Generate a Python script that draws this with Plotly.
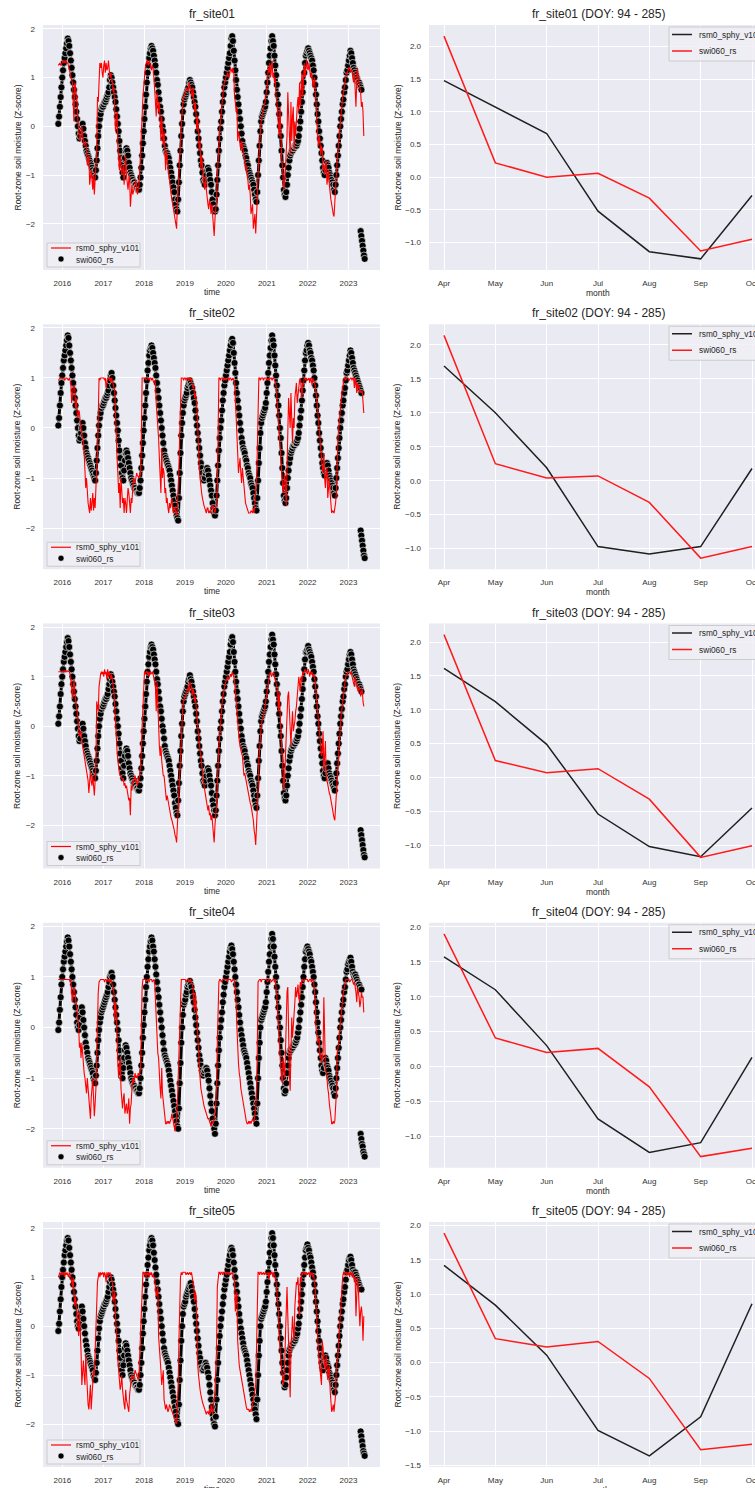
import numpy as np
import pandas as pd
import plotly.graph_objects as go

W, H = 755, 1488
FONT = "Liberation Sans, Arial, sans-serif"
TXT = "#333333"

SITES = ["fr_site01", "fr_site02", "fr_site03", "fr_site04", "fr_site05"]
MONTHS = ["Apr", "May", "Jun", "Jul", "Aug", "Sep", "Oct"]
START = "2015-11-26"       # first weekly sample of the daily series (read weekly)
TAIL_START = "2023-04-20"  # isolated cluster of swi060_rs at the end

# ---------------- swi060_rs (black dots), weekly readings ----------------
swi_s01 = [0.05, 0.2, 0.4, 0.6, 0.8,
    1.0, 1.15, 1.3, 1.4, 1.5, 1.6, 1.7, 1.8, 1.75, 1.65, 1.5, 1.35, 1.2, 1.05, 0.9, 0.75, 0.6, 0.45, 0.3, 0.15, 0.0, -0.15, -0.25, -0.2, -0.1, 0.0, 0.05, -0.05, -0.2, -0.3, -0.4, -0.5, -0.55, -0.6, -0.65, -0.7, -0.75, -0.8, -0.85, -0.9, -0.95, -1.0, -1.05, -0.9, -0.7, -0.45, -0.2, 0.0, 0.15, 0.25, 0.35, 0.4,
    0.4, 0.45, 0.5, 0.5, 0.55, 0.6, 0.65, 0.7, 0.8, 0.95, 1.05, 1.0, 0.9, 0.8, 0.7, 0.6, 0.5, 0.35, 0.2, 0.05, -0.1, -0.3, -0.5, -0.65, -0.8, -0.95, -1.05, -0.85, -0.65, -0.5, -0.45, -0.5, -0.6, -0.75, -0.85, -0.95, -1.0, -1.05, -1.1, -1.15, -1.15, -1.2, -1.2, -1.25, -1.25, -1.3, -1.3, -1.2, -1.05, -0.85, -0.6, -0.35,
    -0.1, 0.15, 0.4, 0.65, 0.9, 1.1, 1.25, 1.4, 1.5, 1.6, 1.65, 1.6, 1.55, 1.45, 1.35, 1.25, 1.1, 0.95, 0.85, 0.7, 0.55, 0.4, 0.3, 0.15, 0.0, -0.1, -0.25, -0.4, -0.5, -0.55, -0.55, -0.6, -0.65, -0.75, -0.85, -0.95, -1.05, -1.15, -1.25, -1.35, -1.5, -1.6, -1.7, -1.75, -1.5, -1.15, -0.8, -0.5, -0.2, 0.05, 0.3, 0.45,
    0.55, 0.6, 0.65, 0.7, 0.75, 0.8, 0.9, 0.95, 0.9, 0.85, 0.8, 0.7, 0.6, 0.5, 0.4, 0.25, 0.1, -0.1, -0.25, -0.4, -0.55, -0.7, -0.8, -0.95, -1.1, -1.15, -1.2, -1.1, -1.0, -0.9, -0.85, -0.9, -1.0, -1.1, -1.2, -1.35, -1.5, -1.6, -1.7, -1.75, -1.7, -1.4, -1.1, -0.8, -0.5, -0.25, -0.05, 0.1, 0.3, 0.5, 0.65, 0.8,
    0.9, 1.0, 1.1, 1.2, 1.3, 1.4, 1.5, 1.65, 1.8, 1.85, 1.75, 1.55, 1.35, 1.15, 0.95, 0.75, 0.6, 0.45, 0.3, 0.15, 0.0, -0.15, -0.3, -0.4, -0.45, -0.5, -0.6, -0.65, -0.75, -0.8, -0.9, -0.95, -1.0, -1.05, -1.1, -1.15, -1.2, -1.3, -1.4, -1.5, -1.55, -1.35, -1.0, -0.7, -0.4, -0.1, 0.1, 0.2, 0.25, 0.3, 0.35, 0.4,
    0.5, 0.7, 0.9, 1.1, 1.3, 1.45, 1.6, 1.75, 1.85, 1.75, 1.65, 1.45, 1.25, 1.05, 0.85, 0.65, 0.45, 0.25, 0.0, -0.2, -0.5, -0.8, -1.05, -1.3, -1.4, -1.45, -1.35, -1.2, -1.0, -0.85, -0.7, -0.6, -0.55, -0.5, -0.5, -0.45, -0.45, -0.4, -0.4, -0.4, -0.35, -0.3, -0.2, -0.05, 0.1, 0.3, 0.5, 0.7, 0.9, 1.1, 1.3, 1.45,
    1.5, 1.55, 1.6, 1.55, 1.5, 1.45, 1.4, 1.35, 1.25, 1.15, 1.0, 0.85, 0.65, 0.45, 0.25, 0.1, -0.1, -0.25, -0.4, -0.55, -0.7, -0.85, -0.95, -1.0, -0.9, -0.8, -0.75, -0.8, -0.85, -0.95, -1.0, -1.05, -1.1, -1.15, -1.2, -1.3, -1.35, -1.2, -1.0, -0.8, -0.6, -0.4, -0.2, 0.0, 0.15, 0.3, 0.45, 0.55, 0.7, 0.8, 0.95, 1.1,
    1.15, 1.25, 1.35, 1.45, 1.55, 1.5, 1.4, 1.3, 1.2, 1.15, 1.1, 1.05, 1.0, 0.95, 0.9, 0.9, 0.85, 0.8, 0.75]

swi_s02 = [0.05, 0.2, 0.45, 0.7, 0.9,
    1.05, 1.2, 1.35, 1.45, 1.55, 1.65, 1.75, 1.85, 1.8, 1.65, 1.5, 1.35, 1.2, 1.05, 0.9, 0.75, 0.6, 0.45, 0.3, 0.15, 0.0, -0.15, -0.25, -0.2, -0.1, 0.0, 0.1, 0.0, -0.15, -0.3, -0.4, -0.5, -0.55, -0.6, -0.65, -0.7, -0.75, -0.8, -0.85, -0.9, -0.95, -1.0, -1.05, -0.9, -0.65, -0.4, -0.15, 0.05, 0.2, 0.3, 0.4, 0.45,
    0.45, 0.5, 0.55, 0.6, 0.6, 0.65, 0.7, 0.75, 0.85, 0.95, 1.05, 1.1, 1.0, 0.85, 0.7, 0.55, 0.4, 0.25, 0.1, -0.05, -0.25, -0.45, -0.6, -0.75, -0.9, -1.0, -1.05, -0.85, -0.65, -0.5, -0.45, -0.5, -0.6, -0.7, -0.8, -0.9, -1.0, -1.05, -1.1, -1.15, -1.2, -1.2, -1.25, -1.25, -1.3, -1.3, -1.3, -1.2, -1.05, -0.8, -0.55, -0.3,
    -0.05, 0.2, 0.45, 0.7, 0.95, 1.15, 1.3, 1.45, 1.55, 1.6, 1.65, 1.6, 1.5, 1.4, 1.3, 1.2, 1.05, 0.9, 0.75, 0.6, 0.45, 0.3, 0.15, 0.0, -0.15, -0.3, -0.45, -0.55, -0.6, -0.65, -0.7, -0.75, -0.8, -0.85, -0.95, -1.05, -1.15, -1.25, -1.35, -1.45, -1.55, -1.65, -1.75, -1.8, -1.85, -1.4, -0.9, -0.5, -0.15, 0.1, 0.3, 0.45,
    0.55, 0.6, 0.65, 0.7, 0.8, 0.85, 0.9, 0.95, 0.9, 0.85, 0.8, 0.7, 0.6, 0.5, 0.35, 0.2, 0.05, -0.1, -0.25, -0.4, -0.55, -0.7, -0.8, -0.9, -1.0, -1.05, -1.0, -0.9, -0.85, -0.8, -0.85, -0.95, -1.05, -1.15, -1.25, -1.35, -1.5, -1.6, -1.7, -1.75, -1.65, -1.35, -1.05, -0.75, -0.45, -0.2, 0.0, 0.15, 0.35, 0.55, 0.7, 0.85,
    0.95, 1.05, 1.15, 1.25, 1.35, 1.45, 1.55, 1.65, 1.75, 1.78, 1.7, 1.5, 1.3, 1.1, 0.9, 0.7, 0.55, 0.4, 0.25, 0.1, -0.05, -0.2, -0.3, -0.4, -0.45, -0.5, -0.6, -0.65, -0.75, -0.8, -0.9, -0.95, -1.0, -1.1, -1.15, -1.2, -1.3, -1.4, -1.5, -1.6, -1.65, -1.4, -1.05, -0.7, -0.4, -0.1, 0.1, 0.2, 0.25, 0.3, 0.35, 0.4,
    0.5, 0.7, 0.9, 1.1, 1.3, 1.45, 1.6, 1.75, 1.85, 1.75, 1.65, 1.45, 1.25, 1.05, 0.85, 0.65, 0.45, 0.25, 0.0, -0.2, -0.5, -0.8, -1.1, -1.35, -1.45, -1.5, -1.4, -1.2, -1.0, -0.85, -0.7, -0.6, -0.5, -0.45, -0.4, -0.35, -0.35, -0.3, -0.3, -0.3, -0.25, -0.2, -0.1, 0.05, 0.2, 0.35, 0.55, 0.75, 0.95, 1.15, 1.35, 1.5,
    1.55, 1.65, 1.7, 1.65, 1.55, 1.5, 1.4, 1.35, 1.25, 1.15, 1.0, 0.85, 0.65, 0.45, 0.25, 0.1, -0.1, -0.25, -0.4, -0.55, -0.7, -0.8, -0.9, -0.95, -0.85, -0.75, -0.7, -0.75, -0.85, -0.95, -1.0, -1.05, -1.1, -1.15, -1.2, -1.3, -1.35, -1.2, -1.0, -0.8, -0.6, -0.4, -0.2, 0.0, 0.15, 0.3, 0.45, 0.55, 0.7, 0.8, 0.95, 1.1,
    1.15, 1.25, 1.35, 1.45, 1.55, 1.5, 1.4, 1.3, 1.2, 1.15, 1.1, 1.05, 1.0, 0.95, 0.9, 0.85, 0.8, 0.75, 0.7]

swi_s03 = [0.05, 0.2, 0.4, 0.65, 0.85,
    1.0, 1.15, 1.3, 1.4, 1.5, 1.6, 1.7, 1.78, 1.72, 1.6, 1.45, 1.3, 1.15, 1.0, 0.85, 0.7, 0.55, 0.4, 0.25, 0.1, -0.05, -0.2, -0.3, -0.25, -0.1, 0.0, 0.05, -0.05, -0.2, -0.3, -0.4, -0.5, -0.55, -0.6, -0.65, -0.7, -0.75, -0.8, -0.85, -0.9, -0.95, -1.0, -1.05, -0.9, -0.7, -0.45, -0.2, 0.0, 0.15, 0.25, 0.35, 0.4,
    0.4, 0.45, 0.5, 0.55, 0.55, 0.6, 0.65, 0.75, 0.85, 0.95, 1.05, 1.0, 0.9, 0.8, 0.7, 0.6, 0.45, 0.3, 0.15, 0.0, -0.15, -0.35, -0.55, -0.7, -0.85, -0.95, -1.05, -0.8, -0.6, -0.5, -0.45, -0.5, -0.6, -0.75, -0.85, -0.95, -1.0, -1.05, -1.1, -1.15, -1.15, -1.2, -1.2, -1.25, -1.25, -1.3, -1.3, -1.2, -1.05, -0.85, -0.6, -0.35,
    -0.1, 0.15, 0.4, 0.65, 0.9, 1.1, 1.25, 1.4, 1.5, 1.6, 1.65, 1.6, 1.55, 1.45, 1.35, 1.25, 1.1, 0.95, 0.85, 0.7, 0.55, 0.4, 0.3, 0.15, 0.0, -0.1, -0.25, -0.4, -0.5, -0.55, -0.6, -0.65, -0.7, -0.8, -0.9, -1.0, -1.1, -1.2, -1.3, -1.4, -1.55, -1.65, -1.75, -1.8, -1.5, -1.15, -0.8, -0.5, -0.2, 0.05, 0.3, 0.5,
    0.6, 0.65, 0.7, 0.75, 0.8, 0.9, 0.95, 1.03, 0.95, 0.9, 0.8, 0.7, 0.6, 0.5, 0.4, 0.25, 0.1, -0.1, -0.25, -0.4, -0.55, -0.7, -0.8, -0.95, -1.1, -1.15, -1.2, -1.1, -1.0, -0.9, -0.85, -0.9, -1.0, -1.1, -1.2, -1.35, -1.5, -1.6, -1.7, -1.8, -1.7, -1.4, -1.1, -0.8, -0.5, -0.25, -0.05, 0.1, 0.3, 0.5, 0.65, 0.8,
    0.9, 1.0, 1.1, 1.2, 1.3, 1.4, 1.5, 1.65, 1.75, 1.8, 1.7, 1.5, 1.3, 1.1, 0.9, 0.7, 0.55, 0.4, 0.25, 0.1, -0.05, -0.2, -0.3, -0.4, -0.45, -0.5, -0.6, -0.65, -0.75, -0.8, -0.9, -0.95, -1.0, -1.1, -1.15, -1.2, -1.3, -1.4, -1.5, -1.6, -1.65, -1.4, -1.05, -0.7, -0.4, -0.1, 0.1, 0.2, 0.25, 0.3, 0.35, 0.4,
    0.5, 0.7, 0.9, 1.1, 1.3, 1.45, 1.6, 1.75, 1.85, 1.75, 1.65, 1.45, 1.25, 1.05, 0.85, 0.65, 0.45, 0.25, 0.0, -0.2, -0.5, -0.8, -1.1, -1.35, -1.45, -1.5, -1.4, -1.2, -1.0, -0.85, -0.7, -0.6, -0.5, -0.45, -0.4, -0.4, -0.35, -0.35, -0.3, -0.3, -0.25, -0.2, -0.1, 0.05, 0.2, 0.35, 0.55, 0.75, 0.95, 1.15, 1.35, 1.5,
    1.5, 1.55, 1.62, 1.55, 1.5, 1.45, 1.4, 1.3, 1.2, 1.1, 0.95, 0.8, 0.6, 0.4, 0.2, 0.05, -0.15, -0.3, -0.45, -0.6, -0.75, -0.9, -1.0, -1.05, -0.95, -0.85, -0.75, -0.75, -0.85, -0.95, -1.0, -1.05, -1.1, -1.15, -1.2, -1.25, -1.3, -1.15, -0.95, -0.75, -0.55, -0.35, -0.15, 0.05, 0.2, 0.35, 0.5, 0.6, 0.75, 0.85, 1.0, 1.1,
    1.15, 1.25, 1.35, 1.45, 1.5, 1.45, 1.35, 1.25, 1.15, 1.1, 1.05, 1.0, 0.95, 0.9, 0.85, 0.85, 0.8, 0.75, 0.7]

swi_s04 = [-0.05, 0.1, 0.35, 0.6, 0.85,
    1.0, 1.15, 1.3, 1.4, 1.5, 1.6, 1.7, 1.78, 1.72, 1.6, 1.45, 1.3, 1.15, 1.0, 0.85, 0.7, 0.55, 0.4, 0.25, 0.1, 0.0, -0.05, 0.05, 0.2, 0.35, 0.4, 0.3, 0.15, 0.0, -0.15, -0.3, -0.4, -0.5, -0.6, -0.65, -0.7, -0.75, -0.8, -0.85, -0.9, -1.0, -1.05, -1.1, -0.95, -0.75, -0.5, -0.25, -0.05, 0.1, 0.2, 0.3, 0.35,
    0.4, 0.45, 0.5, 0.55, 0.6, 0.65, 0.7, 0.8, 0.9, 1.0, 1.05, 1.08, 1.0, 0.85, 0.7, 0.55, 0.4, 0.25, 0.1, -0.05, -0.25, -0.45, -0.6, -0.75, -0.9, -1.0, -0.8, -0.6, -0.45, -0.35, -0.4, -0.5, -0.6, -0.7, -0.8, -0.9, -1.0, -1.05, -1.1, -1.15, -1.15, -1.2, -1.2, -1.25, -1.25, -1.3, -1.3, -1.2, -1.0, -0.75, -0.5, -0.2,
    0.05, 0.3, 0.55, 0.8, 1.0, 1.2, 1.35, 1.5, 1.6, 1.7, 1.78, 1.72, 1.6, 1.5, 1.35, 1.2, 1.05, 0.9, 0.75, 0.6, 0.45, 0.3, 0.15, 0.0, -0.15, -0.3, -0.45, -0.55, -0.6, -0.65, -0.7, -0.75, -0.85, -0.95, -1.05, -1.15, -1.25, -1.35, -1.45, -1.55, -1.65, -1.75, -1.85, -1.95, -2.0, -1.6, -1.1, -0.7, -0.3, 0.0, 0.25, 0.45,
    0.5, 0.55, 0.65, 0.7, 0.8, 0.85, 0.9, 0.92, 0.85, 0.8, 0.7, 0.6, 0.5, 0.35, 0.2, 0.05, -0.1, -0.25, -0.4, -0.55, -0.65, -0.75, -0.85, -0.9, -0.95, -0.9, -0.85, -0.8, -0.8, -0.85, -0.95, -1.05, -1.2, -1.35, -1.5, -1.65, -1.8, -1.9, -2.0, -2.1, -1.9, -1.5, -1.1, -0.75, -0.45, -0.2, 0.0, 0.15, 0.3, 0.5, 0.65, 0.8,
    0.9, 1.0, 1.1, 1.2, 1.3, 1.4, 1.5, 1.58, 1.62, 1.55, 1.45, 1.3, 1.15, 1.0, 0.85, 0.7, 0.55, 0.4, 0.25, 0.1, -0.05, -0.15, -0.25, -0.35, -0.45, -0.5, -0.55, -0.6, -0.7, -0.8, -0.9, -1.0, -1.1, -1.2, -1.3, -1.4, -1.5, -1.6, -1.7, -1.8, -1.9, -1.5, -1.0, -0.6, -0.3, 0.0, 0.15, 0.2, 0.25, 0.3, 0.35, 0.4,
    0.5, 0.7, 0.9, 1.1, 1.3, 1.45, 1.6, 1.75, 1.85, 1.75, 1.6, 1.4, 1.2, 1.0, 0.8, 0.6, 0.4, 0.2, 0.0, -0.25, -0.5, -0.75, -1.0, -1.2, -1.3, -1.25, -1.1, -0.9, -0.75, -0.6, -0.5, -0.45, -0.45, -0.4, -0.4, -0.35, -0.35, -0.3, -0.3, -0.25, -0.2, -0.1, 0.0, 0.15, 0.3, 0.45, 0.6, 0.8, 1.0, 1.2, 1.35, 1.5,
    1.55, 1.6, 1.55, 1.5, 1.45, 1.35, 1.3, 1.2, 1.1, 1.0, 0.85, 0.7, 0.5, 0.3, 0.1, -0.1, -0.3, -0.45, -0.6, -0.75, -0.85, -0.9, -0.8, -0.65, -0.6, -0.65, -0.75, -0.8, -0.85, -0.95, -1.0, -1.05, -1.1, -1.15, -1.2, -1.3, -1.35, -1.2, -1.0, -0.8, -0.6, -0.4, -0.2, 0.0, 0.15, 0.3, 0.45, 0.55, 0.7, 0.8, 0.95, 1.1,
    1.15, 1.25, 1.3, 1.35, 1.38, 1.3, 1.2, 1.1, 1.05, 1.0, 1.05, 1.0, 0.95, 0.9, 0.85, 0.85, 0.8, 0.75, 0.75]

swi_s05 = [-0.1, 0.05, 0.3, 0.55, 0.8,
    1.0, 1.15, 1.3, 1.45, 1.55, 1.65, 1.75, 1.8, 1.75, 1.6, 1.45, 1.3, 1.15, 1.0, 0.85, 0.7, 0.55, 0.4, 0.25, 0.1, 0.0, -0.05, 0.05, 0.2, 0.3, 0.4, 0.3, 0.15, 0.0, -0.15, -0.3, -0.4, -0.5, -0.6, -0.65, -0.7, -0.75, -0.8, -0.85, -0.9, -1.0, -1.05, -1.1, -0.95, -0.75, -0.5, -0.25, -0.05, 0.1, 0.2, 0.25, 0.3,
    0.35, 0.4, 0.45, 0.45, 0.5, 0.55, 0.6, 0.7, 0.8, 0.9, 1.0, 0.95, 0.85, 0.75, 0.65, 0.5, 0.35, 0.2, 0.05, -0.1, -0.3, -0.5, -0.65, -0.8, -0.9, -1.0, -0.8, -0.6, -0.45, -0.35, -0.4, -0.5, -0.6, -0.7, -0.8, -0.9, -1.0, -1.05, -1.1, -1.15, -1.15, -1.2, -1.2, -1.25, -1.25, -1.3, -1.3, -1.2, -1.0, -0.75, -0.45, -0.15,
    0.1, 0.35, 0.6, 0.85, 1.05, 1.25, 1.4, 1.55, 1.65, 1.75, 1.8, 1.75, 1.65, 1.5, 1.35, 1.2, 1.05, 0.9, 0.75, 0.6, 0.45, 0.3, 0.15, 0.0, -0.15, -0.3, -0.45, -0.55, -0.6, -0.65, -0.7, -0.75, -0.85, -0.95, -1.05, -1.15, -1.25, -1.35, -1.45, -1.55, -1.65, -1.75, -1.85, -1.95, -2.0, -1.6, -1.1, -0.7, -0.3, 0.0, 0.25, 0.4,
    0.45, 0.5, 0.6, 0.65, 0.7, 0.75, 0.8, 0.85, 0.88, 0.8, 0.7, 0.6, 0.5, 0.35, 0.2, 0.05, -0.1, -0.25, -0.4, -0.55, -0.65, -0.75, -0.85, -0.9, -0.9, -0.85, -0.8, -0.75, -0.8, -0.85, -0.95, -1.05, -1.2, -1.35, -1.5, -1.65, -1.8, -1.9, -2.0, -2.05, -1.85, -1.5, -1.1, -0.75, -0.45, -0.2, 0.0, 0.15, 0.3, 0.45, 0.6, 0.75,
    0.85, 0.95, 1.05, 1.15, 1.25, 1.35, 1.45, 1.55, 1.6, 1.55, 1.45, 1.3, 1.15, 1.0, 0.85, 0.7, 0.55, 0.4, 0.25, 0.1, -0.05, -0.15, -0.25, -0.35, -0.45, -0.5, -0.55, -0.6, -0.7, -0.8, -0.9, -1.0, -1.1, -1.2, -1.3, -1.4, -1.5, -1.6, -1.7, -1.8, -1.9, -1.5, -1.0, -0.6, -0.3, 0.0, 0.15, 0.2, 0.25, 0.3, 0.35, 0.4,
    0.5, 0.7, 0.9, 1.1, 1.3, 1.5, 1.65, 1.8, 1.9, 1.8, 1.65, 1.45, 1.25, 1.05, 0.85, 0.65, 0.45, 0.25, 0.0, -0.25, -0.5, -0.75, -0.95, -1.15, -1.25, -1.2, -1.05, -0.9, -0.75, -0.6, -0.5, -0.45, -0.4, -0.4, -0.35, -0.35, -0.3, -0.3, -0.25, -0.2, -0.15, -0.05, 0.05, 0.2, 0.35, 0.5, 0.65, 0.85, 1.05, 1.25, 1.4, 1.55,
    1.6, 1.67, 1.6, 1.55, 1.45, 1.4, 1.3, 1.2, 1.1, 1.0, 0.85, 0.7, 0.5, 0.3, 0.1, -0.1, -0.3, -0.45, -0.6, -0.75, -0.85, -0.9, -0.8, -0.65, -0.6, -0.65, -0.75, -0.8, -0.85, -0.95, -1.0, -1.05, -1.1, -1.15, -1.2, -1.3, -1.35, -1.2, -1.0, -0.8, -0.6, -0.4, -0.2, 0.0, 0.15, 0.3, 0.45, 0.55, 0.7, 0.8, 0.95, 1.1,
    1.15, 1.25, 1.35, 1.4, 1.42, 1.35, 1.25, 1.15, 1.1, 1.05, 1.1, 1.05, 1.0, 0.95, 0.9, 0.85, 0.8, 0.75, 0.75]

# isolated end-of-record cluster of swi060_rs
tail_s01 = [-2.15, -2.25, -2.35, -2.45, -2.55, -2.65, -2.72]
tail_s02 = [-2.05, -2.15, -2.25, -2.35, -2.45, -2.55, -2.6]
tail_s03 = [-2.1, -2.2, -2.3, -2.4, -2.5, -2.6, -2.65]
tail_s04 = [-2.1, -2.2, -2.3, -2.35, -2.45, -2.5, -2.55]
tail_s05 = [-2.15, -2.25, -2.35, -2.45, -2.55, -2.6, -2.65]

# ---------------- rsm0_sphy_v101 (red line), weekly readings ----------------
rsm_s01 = [1.25, 1.3, 1.3, 1.25, 1.3,
    1.3, 1.35, 1.3, 1.35, 1.3, 1.35, 1.3, 1.3, 1.25, 1.2, 1.1, 1.0, 0.95, 0.9, 0.5, 0.1, 0.9, 0.8, 0.6, 0.5, 0.1, -0.2, -0.25, -0.3, -0.1, 0.0, -0.2, -0.3, -0.4, -0.35, -0.3, -0.5, -0.8, -0.7, -0.6, -1.2, -1.0, -0.9, -1.1, -1.3, -1.0, -1.4, -1.1, -0.8, -0.5, 0.6, 0.5, 0.9, 1.3, 1.2, 1.3, 1.1,
    1.0, 1.25, 1.35, 1.1, 1.3, 1.15, 1.2, 1.35, 1.2, 1.0, 1.1, 0.9, 0.95, 0.7, 0.8, 0.3, -0.1, 0.1, 0.3, -0.4, -0.7, -0.9, -0.6, -0.8, -1.0, -0.9, -0.8, -1.2, -0.9, -0.6, -1.0, -1.2, -1.3, -1.1, -1.0, -1.65, -1.3, -1.2, -1.4, -1.35, -1.3, -1.2, -1.1, -1.25, -1.4, -1.3, -1.2, -0.9, -0.6, -0.3, 0.2, 0.6,
    0.9, 1.0, 1.2, 1.3, 1.35, 1.3, 1.25, 1.35, 1.3, 1.2, 1.15, 1.25, 1.2, 1.0, 0.8, 0.5, 0.2, 0.7, 0.5, 0.3, 0.5, 0.1, -0.3, 0.2, -0.1, -0.4, -0.1, -0.5, -0.9, -0.5, -0.7, -0.9, -1.0, -1.1, -1.3, -1.4, -1.5, -1.6, -1.7, -1.8, -1.9, -2.0, -2.1, -1.6, -1.2, -0.8, -0.5, -0.3, 0.0, 0.3, 0.5, 0.6,
    0.6, 0.7, 0.75, 0.8, 0.75, 0.7, 0.9, 0.85, 0.8, 0.7, 0.6, 0.8, 0.5, 0.3, 0.5, 0.2, -0.1, 0.2, -0.2, -0.5, -0.3, -0.9, -0.6, -0.8, -1.1, -1.2, -1.3, -1.0, -1.3, -1.5, -1.6, -1.7, -1.5, -1.6, -1.8, -1.6, -1.8, -2.0, -2.25, -1.9, -1.7, -1.5, -1.0, -0.6, -0.3, -0.1, 0.1, 0.3, 0.5, 0.7, 0.8, 0.9,
    0.95, 1.0, 1.05, 1.1, 1.05, 1.0, 1.1, 1.2, 1.15, 1.1, 1.2, 1.1, 0.6, 0.5, 0.3, 0.4, -0.3, -0.1, -0.2, -0.4, -0.5, -0.3, -0.4, -0.5, -0.6, -0.7, -0.9, -0.8, -1.0, -1.1, -1.3, -1.2, -1.4, -1.8, -1.7, -1.6, -2.1, -1.9, -1.8, -2.2, -1.9, -1.5, -1.0, -0.6, -0.2, -0.1, 0.1, 0.2, 0.25, 0.4, 0.45, 0.5,
    0.6, 0.75, 0.9, 1.2, 1.1, 1.3, 1.0, 1.2, 1.35, 1.0, 1.1, 0.9, 1.0, 0.6, 0.5, 0.3, 0.1, -0.2, 0.4, -0.5, -0.6, -0.8, -1.0, -1.3, -1.1, -0.9, -0.5, -0.2, 0.7, 0.1, -0.3, -0.6, 0.5, -0.3, 0.2, 0.4, -0.5, 0.1, -0.2, 0.2, 0.4, 0.6, 0.3, 0.9, 0.4, 0.7, 1.1, 0.6, 0.9, 1.3, 1.0, 1.2,
    1.35, 1.2, 1.15, 1.3, 1.1, 1.0, 1.1, 1.05, 0.8, 0.9, 1.0, 0.7, 0.5, 0.1, -0.1, -0.4, -0.2, -0.3, -0.6, -0.4, -0.5, -0.9, -0.8, -1.0, -0.8, -0.7, -1.2, -1.0, -0.9, -1.2, -1.4, -1.5, -1.6, -1.75, -1.8, -1.85, -1.5, -1.2, -1.0, -0.7, -0.5, -0.3, -0.1, 0.1, 0.3, 0.45, 0.6, 0.7, 0.8, 0.9, 1.0, 1.1,
    1.1, 1.15, 1.2, 1.2, 1.1, 1.15, 1.15, 1.0, 0.9, 1.1, 0.6, 0.4, 0.9, 1.2, 1.0, 0.9, 0.8, 0.7, 0.4, 0.5, 0.3, -0.2]

rsm_s02 = [0.95, 1.0, 1.0, 1.0, 1.0,
    1.0, 1.0, 1.0, 0.95, 1.0, 1.0, 1.0, 0.95, 0.95, 1.0, 0.95, 0.9, 0.5, 0.75, 0.8, 0.85, 0.8, 0.4, 0.6, 0.3, 0.2, 0.35, 0.3, 0.1, 0.0, -0.1, -0.2, -0.3, -0.5, -0.9, -1.2, -1.0, -1.3, -1.5, -1.6, -1.7, -1.4, -1.65, -1.5, -1.3, -1.65, -1.4, -1.6, -1.0, -0.8, -0.5, 0.5, 1.0, 0.95, 1.0, 1.0, 1.0,
    1.0, 1.0, 0.95, 1.0, 0.8, 0.95, 1.0, 1.0, 0.95, 1.0, 0.9, 1.0, 0.95, 0.85, 0.8, 0.75, 0.3, -0.4, -0.6, -0.9, -1.3, -1.1, -1.6, -1.0, -1.2, -1.5, -1.4, -1.7, -1.4, -1.5, -1.7, -1.4, -1.2, -1.3, -1.5, -1.7, -1.4, -1.5, -1.2, -1.0, -1.05, -1.1, -1.0, -0.9, -0.95, -1.0, -1.0, -0.9, -0.95, -0.2, 1.0, 1.0,
    1.0, 1.0, 1.0, 0.95, 1.0, 1.0, 1.0, 0.95, 1.0, 1.0, 0.95, 1.0, 0.95, 0.9, 0.95, 0.9, 0.5, 0.3, 0.1, -0.2, -0.6, -0.9, -1.3, -0.4, -1.0, -0.8, -0.9, -1.3, -1.2, -1.5, -1.4, -1.6, -1.7, -1.5, -1.6, -1.5, -1.4, -1.6, -1.7, -1.6, -1.6, -1.7, -1.75, -1.6, -1.3, -0.8, -0.1, 0.5, 1.0, 1.0, 1.0, 0.95,
    1.0, 1.0, 0.95, 1.0, 1.0, 0.95, 1.0, 0.95, 1.0, 0.95, 0.9, 0.8, 0.85, 0.6, 0.7, 0.5, 0.4, 0.0, -0.5, -0.8, -1.0, -1.2, -1.3, -1.4, -1.5, -1.55, -1.6, -1.65, -1.7, -1.6, -1.6, -1.7, -1.65, -1.7, -1.6, -1.55, -1.6, -1.55, -1.65, -1.7, -1.6, -1.5, -1.2, 0.0, 1.0, 1.0, 0.95, 1.0, 1.0, 1.0, 0.95, 1.0,
    1.0, 0.95, 1.0, 1.0, 1.0, 0.95, 1.0, 1.0, 0.95, 1.0, 1.0, 0.95, 0.9, 0.6, 0.3, 0.0, -0.5, -0.9, -0.7, -0.6, -0.9, -1.1, -0.8, -1.0, -1.2, -1.4, -1.5, -1.55, -1.6, -1.65, -1.7, -1.7, -1.7, -1.65, -1.7, -1.7, -1.6, -1.7, -1.5, -1.3, -1.0, -0.5, 0.2, 1.0, 1.0, 0.95, 1.0, 1.0, 1.0, 0.95, 1.0, 1.0,
    1.0, 0.95, 1.0, 1.0, 0.95, 1.0, 1.0, 1.0, 0.95, 1.0, 1.0, 0.95, 0.9, 0.85, 0.6, 0.4, 0.2, 0.0, -0.3, -0.6, -0.8, -1.0, -1.3, -1.1, -0.9, -1.2, -1.55, -0.8, -0.2, 0.6, 0.3, 0.0, 0.7, 0.2, -0.3, 0.2, 0.0, 0.6, 0.75, 0.9, 0.5, 0.7, 0.9, 0.95, 1.0, 0.8, 0.6, 0.9, 0.85, 1.0, 1.0, 0.95,
    1.0, 0.95, 1.0, 1.0, 0.9, 1.0, 0.95, 0.85, 1.0, 0.95, 0.9, 0.85, 0.7, 0.6, 0.4, 0.2, 0.0, -0.3, -0.5, -0.6, -0.8, -0.9, -0.5, -1.0, -1.2, -0.9, -0.8, -1.4, -1.2, -1.0, -1.3, -1.5, -1.7, -1.65, -1.7, -1.7, -1.6, -1.5, -1.3, -0.6, -0.2, 0.0, 0.2, 0.4, 0.6, 0.7, 0.8, 0.9, 1.0, 1.0, 0.95, 1.0,
    1.0, 1.0, 0.95, 1.0, 1.0, 1.0, 0.95, 1.0, 1.0, 0.8, 1.0, 0.9, 0.7, 0.9, 0.8, 0.85, 0.7, 0.75, 0.7, 0.75, 0.5, 0.3]

rsm_s03 = [1.1, 1.1, 1.1, 1.1, 1.1,
    1.1, 1.12, 1.1, 1.12, 1.1, 1.12, 1.1, 1.12, 1.1, 1.1, 1.05, 0.95, 0.8, 0.55, 0.9, 0.95, 0.7, 0.5, 0.4, 0.3, 0.1, 0.0, -0.2, -0.15, -0.1, -0.3, -0.4, -0.5, -0.6, -0.7, -0.8, -0.9, -1.0, -1.1, -1.35, -1.1, -0.9, -1.1, -1.2, -1.0, -1.3, -1.4, -1.1, -0.8, 0.5, 0.4, 0.3, 0.8, 1.0, 1.05, 1.1, 1.05,
    1.1, 1.0, 1.15, 1.05, 1.1, 0.95, 1.15, 1.0, 1.1, 1.05, 0.95, 1.05, 0.9, 0.8, 0.7, 0.4, 0.0, -0.2, -0.5, -0.7, -0.9, -0.95, -1.0, -1.0, -1.05, -1.1, -1.05, -1.2, -1.15, -1.25, -1.2, -1.3, -1.4, -1.5, -1.45, -1.8, -1.2, -1.3, -1.1, -1.15, -1.05, -1.0, -1.1, -1.05, -1.2, -1.1, -1.05, -1.0, -0.8, -0.5, 0.0, 0.3,
    0.8, 1.1, 1.05, 1.1, 1.12, 1.05, 1.1, 1.0, 1.1, 1.05, 1.1, 1.1, 1.05, 1.0, 0.9, 0.8, 0.3, 0.9, 0.5, -0.2, -0.4, -0.6, -0.4, -0.7, -0.9, -1.0, -1.0, -1.2, -1.3, -1.5, -1.4, -1.5, -1.6, -1.7, -1.8, -1.85, -1.9, -1.95, -2.0, -2.1, -2.2, -2.25, -2.35, -2.0, -1.6, -1.1, -0.7, -0.4, -0.1, 0.2, 0.4, 0.55,
    0.55, 0.6, 0.65, 0.7, 0.75, 0.8, 0.7, 0.9, 0.85, 0.8, 0.6, 0.75, 0.7, 0.5, 0.6, 0.3, 0.2, 0.0, -0.2, -0.3, -0.5, -0.6, -0.8, -0.9, -1.1, -1.2, -1.3, -1.4, -1.5, -1.6, -1.7, -1.6, -1.8, -1.75, -1.9, -1.8, -2.0, -2.2, -2.35, -2.0, -1.8, -1.6, -1.2, -0.7, -0.4, -0.2, 0.1, 0.3, 0.45, 0.6, 0.7, 0.8,
    0.85, 0.9, 0.95, 1.0, 0.95, 0.95, 1.0, 1.05, 1.0, 1.1, 1.05, 1.0, 0.9, 0.7, 0.5, 0.3, 0.0, -0.1, -0.3, -0.4, -0.5, -0.55, -0.6, -0.8, -1.0, -0.95, -1.05, -1.1, -1.2, -1.3, -1.4, -1.5, -1.55, -1.6, -1.7, -1.8, -1.9, -2.1, -2.2, -2.4, -2.1, -1.8, -1.3, -0.7, -0.4, -0.2, 0.0, 0.1, 0.15, 0.2, 0.3, 0.4,
    0.5, 0.6, 0.7, 0.85, 1.0, 1.05, 1.1, 1.0, 1.05, 1.1, 1.1, 1.0, 0.95, 0.9, 0.8, 0.7, 0.3, 0.7, 0.2, -0.2, -0.4, -0.6, -1.0, -1.3, -1.0, -0.6, 0.0, 0.5, 0.6, 0.7, 0.3, 0.0, -0.4, 0.0, 0.3, -0.1, 0.0, 0.1, 0.3, 0.4, 0.6, 0.8, 1.0, 0.85, 0.7, 1.0, 0.9, 1.1, 1.05, 1.1, 1.15, 1.1,
    1.1, 1.05, 1.15, 1.1, 1.0, 1.1, 1.05, 1.1, 1.0, 1.05, 0.95, 0.9, 0.7, 0.5, 0.3, 0.1, -0.1, -0.3, -0.4, -0.6, -0.5, -0.1, -0.9, -0.6, -0.3, -1.0, -1.1, -1.2, -1.3, -1.35, -1.4, -1.5, -1.6, -1.7, -1.8, -1.85, -1.9, -1.6, -1.4, -1.2, -0.8, -0.5, -0.3, -0.05, 0.2, 0.35, 0.5, 0.65, 0.8, 0.9, 1.0, 1.05,
    1.05, 1.1, 1.1, 1.1, 1.05, 1.1, 1.0, 0.95, 0.9, 0.8, 1.0, 0.9, 0.8, 0.75, 0.7, 0.8, 0.75, 0.6, 0.7, 0.75, 0.5, 0.4]

rsm_s04 = [0.95, 0.95, 0.95, 0.95, 0.95,
    0.95, 0.95, 0.95, 0.95, 0.95, 0.95, 0.95, 0.95, 0.95, 0.95, 0.9, 0.95, 0.7, 0.5, 0.7, 0.8, 0.7, 0.6, 0.45, 0.3, 0.1, 0.0, -0.4, -0.3, -0.6, -0.3, -0.5, -0.8, -0.9, -1.0, -1.2, -1.3, -1.0, -1.2, -1.5, -1.6, -1.8, -1.4, -1.2, -1.0, -1.4, -1.75, -1.5, -1.2, -0.5, 0.3, 0.7, 0.9, 0.95, 0.95, 0.95, 0.95,
    0.95, 0.95, 0.9, 0.95, 0.95, 0.9, 0.95, 0.95, 0.9, 0.95, 0.95, 0.9, 0.85, 0.8, 0.7, 0.1, 0.5, 0.3, -0.4, -0.7, -1.0, -0.8, -0.6, -1.2, -1.4, -1.6, -1.4, -1.3, -1.7, -1.6, -1.5, -1.7, -1.6, -1.4, -1.9, -1.6, -1.5, -1.2, -1.0, -1.1, -1.0, -0.9, -1.0, -0.95, -1.0, -0.9, -0.95, -0.9, -0.8, 0.3, 0.8, 0.95,
    0.95, 0.95, 0.95, 0.9, 0.95, 0.95, 0.95, 0.9, 0.95, 0.95, 0.95, 0.9, 0.95, 0.95, 0.9, 0.5, 0.2, -0.2, -0.5, -0.6, -1.0, -1.2, -1.4, -0.8, -1.3, -1.5, -1.6, -1.75, -1.9, -1.9, -1.85, -1.9, -1.85, -1.9, -1.85, -1.8, -1.7, -1.8, -1.9, -1.95, -2.05, -1.9, -1.8, -1.5, -1.0, -0.5, 0.0, 0.5, 0.95, 0.95, 0.95, 0.95,
    0.95, 0.95, 0.9, 0.95, 0.95, 0.95, 0.9, 0.95, 0.95, 0.9, 0.85, 0.8, 0.5, 0.3, 0.7, 0.4, 0.0, -0.2, -0.5, -0.8, -1.0, -1.2, -1.3, -1.4, -1.5, -1.55, -1.6, -1.65, -1.7, -1.75, -1.8, -1.8, -1.85, -1.9, -1.95, -1.9, -1.85, -1.9, -1.8, -1.7, -1.5, -1.2, -0.3, 0.5, 0.9, 0.95, 0.95, 0.9, 0.95, 0.95, 0.95, 0.95,
    0.95, 0.95, 0.95, 0.9, 0.95, 0.95, 0.95, 0.95, 0.9, 0.95, 0.95, 0.95, 0.9, 0.7, 0.5, 0.0, -0.5, -0.7, -0.9, -1.0, -1.2, -1.3, -1.4, -1.5, -1.6, -1.7, -1.8, -1.85, -1.9, -1.9, -1.85, -1.9, -1.85, -1.9, -1.85, -1.8, -1.85, -1.85, -1.7, -1.6, -1.2, -0.5, 0.9, 0.95, 0.95, 0.95, 0.9, 0.95, 0.95, 0.95, 0.95, 0.95,
    0.95, 0.95, 0.9, 0.95, 0.95, 0.95, 0.95, 0.9, 0.95, 0.95, 0.95, 0.9, 0.95, 0.8, 0.6, 0.3, 0.0, -0.4, -0.6, -0.8, -1.0, -1.1, -0.6, -0.8, -1.0, -0.5, 0.6, 0.7, 0.8, -0.7, -0.9, -1.25, 0.0, 0.2, -0.2, 0.0, 0.3, 0.5, 0.8, 0.6, 0.7, 0.85, 0.6, 0.5, 0.9, 0.8, 0.95, 0.95, 0.9, 0.95, 0.95, 0.95,
    0.95, 0.95, 0.9, 0.95, 0.95, 0.95, 0.9, 0.95, 0.95, 0.9, 0.7, 0.5, 0.0, -0.2, -0.3, -0.25, -0.2, -0.6, -0.5, -0.7, -0.6, -0.5, 0.6, -0.3, -0.8, -0.9, -1.0, -1.2, -1.3, -1.5, -1.6, -1.75, -1.9, -1.9, -1.85, -1.9, -1.85, -1.6, -1.3, -0.5, -0.4, -0.3, -0.1, 0.1, 0.3, 0.4, 0.55, 0.7, 0.8, 0.9, 0.95, 0.95,
    0.95, 0.95, 0.95, 0.9, 0.95, 0.95, 0.95, 0.9, 0.85, 0.9, 0.8, 0.7, 0.5, 0.8, 0.7, 0.6, 0.4, 0.5, 0.7, 0.6, 0.6, 0.3]

rsm_s05 = [1.0, 1.05, 1.1, 1.05, 1.1,
    1.1, 1.05, 1.1, 1.0, 1.1, 1.05, 1.1, 1.05, 1.0, 1.1, 1.05, 1.0, 0.9, 0.8, 1.0, 0.7, 0.4, 0.6, 0.4, 0.2, 0.0, -0.2, 0.3, 0.0, -0.5, -1.2, -0.9, -0.7, -1.0, -1.2, -0.6, -1.0, -1.5, -1.6, -1.7, -1.4, -1.2, -1.7, -1.4, -1.0, -0.9, -1.0, -0.5, -0.3, 0.5, 0.9, 1.0, 1.1, 1.0, 1.1, 1.05, 1.1,
    1.1, 1.0, 1.1, 1.05, 0.9, 1.1, 1.0, 1.1, 1.05, 1.1, 1.0, 0.95, 0.9, 0.5, 0.6, 0.7, 0.2, -0.2, -0.5, -0.7, -0.9, -1.1, -1.3, -1.2, -1.0, -1.3, -1.5, -1.6, -1.7, -1.3, -1.5, -1.6, -1.7, -1.75, -1.4, -1.2, -1.1, -1.0, -1.05, -1.1, -1.0, -0.9, -0.95, -1.0, -1.05, -1.1, -1.0, -0.6, -0.3, 0.2, 0.7, 1.1,
    1.1, 1.05, 1.1, 1.0, 1.1, 1.05, 1.1, 1.0, 1.1, 1.05, 1.1, 1.0, 1.05, 1.0, 0.95, 0.8, 0.6, 0.7, 0.8, -0.2, -0.4, -0.6, -0.9, -1.2, -1.0, -0.9, -1.5, -1.6, -1.7, -1.6, -1.65, -1.75, -1.7, -1.6, -1.65, -1.7, -1.7, -1.75, -1.8, -1.85, -1.9, -1.95, -2.0, -1.6, -1.2, -0.3, 0.7, 1.0, 1.1, 1.05, 1.1, 1.1,
    1.1, 1.1, 1.05, 1.1, 1.1, 1.05, 1.1, 1.1, 1.05, 1.1, 1.0, 0.9, 0.8, 0.5, 0.7, 0.6, -0.5, -0.8, -1.0, -1.2, -1.3, -1.4, -1.5, -1.55, -1.6, -1.65, -1.7, -1.75, -1.8, -1.75, -1.75, -1.8, -1.7, -1.8, -1.6, -1.7, -1.8, -1.6, -1.5, -1.3, -0.9, -0.5, 0.8, 1.05, 1.1, 1.1, 1.05, 1.1, 1.1, 1.05, 1.1, 1.1,
    1.1, 1.05, 1.1, 1.1, 1.05, 1.1, 1.1, 1.05, 1.1, 1.1, 1.05, 1.0, 0.9, 0.3, 0.6, 0.7, -0.3, -0.6, -0.8, -0.9, -1.0, -1.1, -1.2, -1.3, -1.4, -1.5, -1.6, -1.65, -1.7, -1.7, -1.7, -1.75, -1.7, -1.75, -1.7, -1.6, -1.5, -1.4, -1.3, -1.2, -0.5, 0.6, 1.1, 1.1, 1.05, 1.1, 1.1, 1.05, 1.1, 1.1, 1.05, 1.1,
    1.1, 1.05, 1.1, 1.1, 0.95, 1.1, 1.05, 1.1, 1.1, 1.0, 1.1, 1.05, 1.0, 0.9, 0.7, 0.5, 0.3, -0.2, -0.5, -0.7, -0.9, -1.0, -1.2, -1.1, -0.8, -0.2, 0.7, 0.8, 0.2, -0.3, -0.9, -1.45, -0.5, 0.0, 0.2, -0.1, -0.3, 0.4, 0.8, 0.9, 0.85, 1.0, 0.6, 0.2, 1.0, 0.9, 1.1, 1.05, 1.1, 1.1, 1.05, 1.1,
    1.1, 1.05, 1.1, 1.1, 1.0, 1.1, 1.05, 1.1, 1.0, 1.05, 0.9, 0.8, 0.4, 0.0, -0.2, -0.5, -0.7, -0.9, -1.1, -1.2, -0.3, -0.5, -0.7, -0.8, -0.9, -0.6, -0.8, -1.1, -0.9, -0.8, -1.3, -1.5, -1.75, -1.7, -1.6, -1.75, -1.6, -1.4, -0.8, -0.7, -0.6, -0.3, 0.0, 0.3, 0.5, 0.8, 1.0, 1.1, 1.05, 1.1, 1.1, 1.05,
    1.1, 1.05, 1.1, 1.0, 1.1, 1.05, 1.1, 1.0, 1.05, 0.9, 1.0, 0.2, 0.9, 1.0, 0.8, 0.5, 0.0, 0.3, 0.4, 0.2, -0.3, 0.2]

# ---------------- monthly means, DOY 94-285 (right column) ----------------
mon_rsm_s01 = [1.48, 1.07, 0.67, -0.52, -1.14, -1.25, -0.28]
mon_swi_s01 = [2.16, 0.22, 0.00, 0.06, -0.32, -1.13, -0.95]
mon_rsm_s02 = [1.69, 1.00, 0.19, -0.97, -1.08, -0.97, 0.18]
mon_swi_s02 = [2.14, 0.25, 0.04, 0.07, -0.32, -1.14, -0.97]
mon_rsm_s03 = [1.61, 1.12, 0.49, -0.54, -1.02, -1.17, -0.45]
mon_swi_s03 = [2.11, 0.25, 0.07, 0.13, -0.32, -1.18, -1.01]
mon_rsm_s04 = [1.57, 1.10, 0.30, -0.75, -1.23, -1.09, 0.13]
mon_swi_s04 = [1.90, 0.41, 0.20, 0.26, -0.29, -1.29, -1.17]
mon_rsm_s05 = [1.42, 0.84, 0.11, -0.99, -1.36, -0.79, 0.86]
mon_swi_s05 = [1.89, 0.35, 0.23, 0.31, -0.23, -1.27, -1.19]

SWI = [swi_s01, swi_s02, swi_s03, swi_s04, swi_s05]
RSM = [rsm_s01, rsm_s02, rsm_s03, rsm_s04, rsm_s05]
TAIL = [tail_s01, tail_s02, tail_s03, tail_s04, tail_s05]
MON_RSM = [mon_rsm_s01, mon_rsm_s02, mon_rsm_s03, mon_rsm_s04, mon_rsm_s05]
MON_SWI = [mon_swi_s01, mon_swi_s02, mon_swi_s03, mon_swi_s04, mon_swi_s05]

LEG_LEFT = ["rsm0_sphy_v101", "swi060_rs"]
LEG_RIGHT = ["rsm0_sphy_v101", "swi060_rs"]


def weekly(start, n, step=7):
    return pd.Timestamp(start) + pd.to_timedelta(step * np.arange(n), unit="D")


def padded(lo, hi, frac=0.05):
    span = hi - lo
    return [lo - frac * span, hi + frac * span]


def px(x):
    return x / W


def py(y):
    return 1 - y / H


fig = go.Figure()
layout = dict(
    width=W, height=H, showlegend=False,
    margin=dict(l=0, r=0, t=0, b=0, autoexpand=False),
    paper_bgcolor="white", plot_bgcolor="#EAEAF2",
    font=dict(family=FONT, size=8, color=TXT),
)
annotations, shapes = [], []

LX0, LX1 = 43, 380
RX0 = 429
TICK = 8
AX = dict(showgrid=True, gridcolor="white", gridwidth=1, zeroline=False,
          showline=False, ticks="", tickfont=dict(size=TICK, color=TXT, family=FONT))
BLACK_MK = dict(size=7, color="black", line=dict(color="white", width=0.6))
BLACK_LN = dict(color="black", width=3)


def ann(text, xpx, ypx, size, angle=0, anchor="center"):
    annotations.append(dict(text=text, x=px(xpx), y=py(ypx), xref="paper", yref="paper",
                            xanchor=anchor, yanchor="middle", showarrow=False,
                            textangle=angle, font=dict(size=size, color="#262626", family=FONT)))


for r in range(5):
    off = 299.25 * r
    top, bot = 25 + off, 270 + off
    ydom = [py(bot), py(top)]
    ia, ib = 2 * r + 1, 2 * r + 2
    xa = "x" if ia == 1 else f"x{ia}"
    ya = "y" if ia == 1 else f"y{ia}"
    xb, yb = f"x{ib}", f"y{ib}"

    # ---------- left: time series ----------
    swi, rsm, tail = SWI[r], RSM[r], TAIL[r]
    d_swi = weekly(START, len(swi))
    d_rsm = weekly(START, len(rsm))
    d_tail = weekly(TAIL_START, len(tail), step=6)

    fig.add_trace(go.Scatter(x=d_swi, y=swi, mode="lines+markers", marker=BLACK_MK,
                             line=BLACK_LN, name="swi060_rs", xaxis=xa, yaxis=ya))
    fig.add_trace(go.Scatter(x=d_tail, y=tail, mode="lines+markers", marker=BLACK_MK,
                             line=BLACK_LN, name="swi060_rs", xaxis=xa, yaxis=ya))
    fig.add_trace(go.Scatter(x=d_rsm, y=rsm, mode="lines",
                             line=dict(color="#ff0000", width=1.1),
                             name="rsm0_sphy_v101", xaxis=xa, yaxis=ya))

    allv = list(swi) + list(rsm) + list(tail)
    dmin = min(d_swi.min(), d_rsm.min(), d_tail.min())
    dmax = max(d_swi.max(), d_rsm.max(), d_tail.max())
    dspan = dmax - dmin
    xr = [dmin - 0.05 * dspan, dmax + 0.05 * dspan]

    layout["xaxis" if ia == 1 else f"xaxis{ia}"] = dict(
        AX, domain=[px(LX0), px(LX1)], anchor=ya, type="date",
        range=[xr[0].isoformat(), xr[1].isoformat()],
        tick0="2016-01-01", dtick="M12", tickformat="%Y", ticklabelstandoff=7)
    layout["yaxis" if ia == 1 else f"yaxis{ia}"] = dict(
        AX, domain=ydom, anchor=xa, range=padded(min(allv), max(allv)),
        tick0=0, dtick=1, ticklabelstandoff=7)

    # left legend (compact, drawn like the matplotlib legend)
    shapes.append(dict(type="rect", xref="paper", yref="paper", layer="above",
                       x0=px(47), x1=px(140), y0=py(267 + off), y1=py(243 + off),
                       fillcolor="rgba(238,238,244,0.85)", line=dict(color="#cccccc", width=1)))
    shapes.append(dict(type="line", xref="paper", yref="paper", layer="above",
                       x0=px(51), x1=px(71), y0=py(248 + off), y1=py(248 + off),
                       line=dict(color="#ff0000", width=1.2)))
    shapes.append(dict(type="circle", xref="paper", yref="paper", layer="above",
                       x0=px(58), x1=px(64), y0=py(262 + off), y1=py(256 + off),
                       fillcolor="black", line=dict(color="white", width=0.5)))
    ann(LEG_LEFT[0], 74, 248 + off, 8.3, anchor="left")
    ann(LEG_LEFT[1], 74, 259.5 + off, 8.3, anchor="left")

    # ---------- right: monthly means ----------
    xm = list(range(len(MONTHS)))
    fig.add_trace(go.Scatter(x=xm, y=MON_RSM[r], mode="lines",
                             line=dict(color="#202020", width=1.5),
                             name="rsm0_sphy_v101", xaxis=xb, yaxis=yb))
    fig.add_trace(go.Scatter(x=xm, y=MON_SWI[r], mode="lines",
                             line=dict(color="#ff1a1a", width=1.5),
                             name="swi060_rs", xaxis=xb, yaxis=yb))
    mv = MON_RSM[r] + MON_SWI[r]
    px_per = (752 - 444) / 6.0
    x_lo = -(444 - RX0) / px_per
    layout[f"xaxis{ib}"] = dict(
        AX, domain=[px(RX0), 1.0], anchor=yb,
        range=[x_lo, x_lo + (W - RX0) / px_per],
        tickvals=xm, ticktext=MONTHS, ticklabelstandoff=7, ticklabeloverflow="allow")
    layout[f"yaxis{ib}"] = dict(
        AX, domain=ydom, anchor=xb, range=padded(min(mv), max(mv)),
        tick0=0, dtick=0.5, tickformat=".1f", ticklabelstandoff=7)

    # right legend (runs off the right edge as in the reference)
    shapes.append(dict(type="rect", xref="paper", yref="paper", layer="above",
                       x0=px(669), x1=px(790), y0=py(61 + off), y1=py(27 + off),
                       fillcolor="rgba(238,238,244,0.85)", line=dict(color="#cccccc", width=1)))
    shapes.append(dict(type="line", xref="paper", yref="paper", layer="above",
                       x0=px(672), x1=px(692), y0=py(34.5 + off), y1=py(34.5 + off),
                       line=dict(color="#202020", width=1.5)))
    shapes.append(dict(type="line", xref="paper", yref="paper", layer="above",
                       x0=px(672), x1=px(692), y0=py(51 + off), y1=py(51 + off),
                       line=dict(color="#ff1a1a", width=1.5)))
    ann(LEG_RIGHT[0], 697, 34.5 + off, 8.3, anchor="left")
    ann(LEG_RIGHT[1], 697, 51 + off, 8.3, anchor="left")

    # ---------- titles and axis labels ----------
    ann(SITES[r], (LX0 + LX1) / 2, 14 + off, 12)
    ann(f"{SITES[r]} (DOY: 94 - 285)", 598, 14 + off, 12)
    ann("time", (LX0 + LX1) / 2, 292 + off, 8.5)
    ann("month", 598, 293 + off, 8.5)
    ann("Root-zone soil moisture (Z-score)", 17, (top + bot) / 2, 8.5, -90)
    ann("Root-zone soil moisture (Z-score)", 397, (top + bot) / 2, 8.5, -90)

layout["annotations"] = annotations
layout["shapes"] = shapes
fig.update_layout(**layout)
fig.write_html("out.html")
